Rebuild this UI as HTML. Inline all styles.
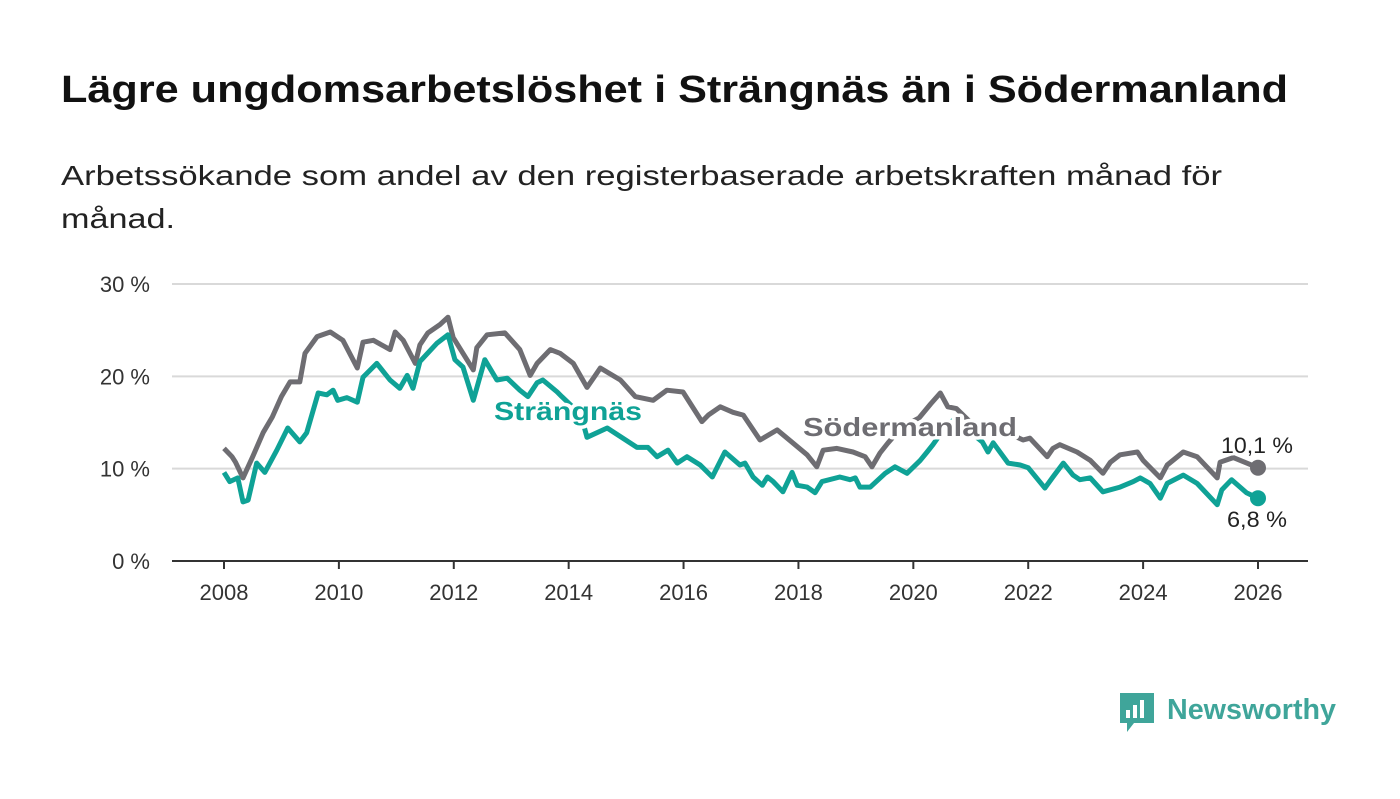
<!DOCTYPE html>
<html><head><meta charset="utf-8"><style>
body{margin:0;background:#fff;width:1400px;height:794px;overflow:hidden;font-family:"Liberation Sans",sans-serif}
</style></head><body>
<svg width="1400" height="794">
<text x="61" y="102" font-size="38" font-weight="bold" fill="#111" textLength="1227" lengthAdjust="spacingAndGlyphs">Lägre ungdomsarbetslöshet i Strängnäs än i Södermanland</text>
<text x="61" y="185" font-size="28" fill="#222" textLength="1161" lengthAdjust="spacingAndGlyphs">Arbetssökande som andel av den registerbaserade arbetskraften månad för</text>
<text x="61" y="228" font-size="28" fill="#222" textLength="114" lengthAdjust="spacingAndGlyphs">månad.</text>
<g id="axes"></g>
<g id="lines"></g>
<g id="labels"></g>
<g>
<path d="M1120 693h34v30h-20l-7 9v-9h-7z" fill="#3fa59a"/>
<rect x="1126" y="710" width="4" height="8" fill="#fff"/><rect x="1133" y="705" width="4" height="13" fill="#fff"/><rect x="1140" y="700" width="4" height="18" fill="#fff"/>
<text x="1167" y="719" font-size="29" font-weight="bold" fill="#3fa59a" textLength="169" lengthAdjust="spacingAndGlyphs">Newsworthy</text>
</g>
</svg>
<script>
const yTicks=[0,10,20,30];
const xTicks=[2008,2010,2012,2014,2016,2018,2020,2022,2024,2026];
const sodDates=[2008.0,2008.14,2008.2,2008.33,2008.5,2008.68,2008.84,2009.0,2009.15,2009.32,2009.41,2009.62,2009.85,2010.07,2010.32,2010.42,2010.6,2010.89,2010.98,2011.12,2011.33,2011.41,2011.55,2011.76,2011.9,2011.99,2012.34,2012.4,2012.58,2012.89,2013.15,2013.33,2013.45,2013.68,2013.85,2014.08,2014.32,2014.43,2014.55,2014.9,2015.16,2015.47,2015.71,2015.99,2016.32,2016.43,2016.64,2016.86,2017.04,2017.33,2017.63,2017.9,2018.15,2018.32,2018.43,2018.67,2018.95,2019.16,2019.28,2019.42,2019.56,2019.8,2020.1,2020.3,2020.47,2020.6,2020.75,2021.0,2021.3,2021.6,2021.91,2022.03,2022.33,2022.43,2022.55,2022.85,2023.08,2023.3,2023.43,2023.6,2023.9,2024.0,2024.3,2024.42,2024.7,2024.94,2025.29,2025.34,2025.57,2026.0];
const sodValues=[12.2,11.3,10.7,9.0,11.3,13.9,15.6,17.8,19.4,19.4,22.5,24.3,24.8,23.9,20.9,23.7,23.9,22.9,24.8,23.9,21.4,23.4,24.7,25.6,26.4,24.2,20.7,23.1,24.5,24.7,22.9,20.1,21.4,22.9,22.5,21.4,18.8,19.8,20.9,19.6,17.8,17.4,18.5,18.3,15.1,15.8,16.7,16.1,15.8,13.1,14.2,12.8,11.5,10.2,12.0,12.2,11.8,11.3,10.2,11.7,12.8,14.5,15.5,17.0,18.2,16.7,16.5,15.0,14.5,14.0,13.1,13.3,11.3,12.2,12.6,11.8,10.9,9.5,10.7,11.5,11.8,10.9,9.0,10.4,11.8,11.3,9.0,10.7,11.2,10.1];
const strDates=[2008.0,2008.1,2008.24,2008.33,2008.42,2008.57,2008.71,2008.92,2009.11,2009.32,2009.44,2009.64,2009.79,2009.9,2009.98,2010.14,2010.32,2010.42,2010.66,2010.89,2011.06,2011.19,2011.29,2011.41,2011.71,2011.9,2012.02,2012.16,2012.34,2012.54,2012.75,2012.93,2013.15,2013.29,2013.45,2013.55,2013.8,2013.88,2014.1,2014.25,2014.32,2014.67,2015.19,2015.38,2015.54,2015.73,2015.89,2016.06,2016.29,2016.5,2016.72,2016.98,2017.07,2017.21,2017.37,2017.46,2017.56,2017.73,2017.89,2017.98,2018.15,2018.29,2018.41,2018.72,2018.9,2018.99,2019.07,2019.25,2019.51,2019.68,2019.89,2020.12,2020.24,2020.34,2020.5,2020.7,2020.95,2021.2,2021.3,2021.39,2021.65,2021.86,2022.0,2022.29,2022.43,2022.61,2022.78,2022.9,2023.08,2023.3,2023.6,2023.83,2023.95,2024.12,2024.3,2024.42,2024.7,2024.94,2025.29,2025.37,2025.54,2025.8,2026.0];
const strValues=[9.6,8.6,9.0,6.4,6.6,10.6,9.6,12.0,14.4,12.9,13.9,18.2,18.0,18.5,17.4,17.7,17.2,19.9,21.4,19.6,18.7,20.1,18.7,21.6,23.6,24.5,21.8,21.0,17.4,21.8,19.6,19.8,18.5,17.8,19.3,19.6,18.3,17.8,16.5,15.0,13.4,14.4,12.3,12.3,11.3,12.0,10.6,11.3,10.4,9.1,11.8,10.4,10.6,9.1,8.2,9.1,8.6,7.5,9.6,8.2,8.0,7.4,8.6,9.1,8.8,9.0,8.0,8.0,9.5,10.2,9.5,10.9,11.8,12.6,14.0,15.3,14.2,12.9,11.8,12.8,10.6,10.4,10.1,7.9,9.1,10.6,9.3,8.8,9.0,7.5,8.0,8.6,9.0,8.4,6.8,8.4,9.3,8.4,6.1,7.7,8.8,7.4,6.8];
const NS="http://www.w3.org/2000/svg";
const X=v=>224+(v-2008)*(1258-224)/18;
const Y=v=>561-v*(561-284)/30;
function mk(tag,attrs,parent){const e=document.createElementNS(NS,tag);for(const k in attrs)e.setAttribute(k,attrs[k]);parent.appendChild(e);return e;}
const ax=document.getElementById('axes');
yTicks.forEach(t=>{
  const g=mk('line',{x1:172,x2:1308,y1:Y(t),y2:Y(t),stroke:t===0?'#333':'#d9d9d9','stroke-width':2},ax);
  
  
  const tx=mk('text',{x:150,y:Y(t)+8,'text-anchor':'end','font-size':22,fill:'#333'},ax);
  tx.textContent=t+' %';
  
  
});
xTicks.forEach(t=>{
  const l=mk('line',{x1:X(t),x2:X(t),y1:561,y2:569,stroke:'#333','stroke-width':2},ax);
  
  
  const tx=mk('text',{x:X(t),y:600,'text-anchor':'middle','font-size':22,fill:'#333'},ax);
  tx.textContent=t;
  
  
});
const ln=document.getElementById('lines');
function series(d,v,color,name){
  const p=mk('path',{d:d.map((x,i)=>(i?'L':'M')+X(x).toFixed(1)+' '+Y(v[i]).toFixed(1)).join(''),fill:'none',stroke:color,'stroke-width':5,'stroke-linejoin':'round'},ln);
  
  
  const c=mk('circle',{cx:X(d[d.length-1]),cy:Y(v[v.length-1]),r:8,fill:color},ln);
  
  
}
series(sodDates,sodValues,'#6e6d72','sodermanland');
series(strDates,strValues,'#0fa296','strangnas');
const lb=document.getElementById('labels');
function lab(x,y,txt,color,bold,size,name,anchor,len){
  const t=mk('text',{x:x,y:y,'font-size':size,'font-weight':bold?'bold':'normal',fill:color,stroke:'#fff','stroke-width':bold?7:5,'paint-order':'stroke','stroke-linejoin':'round','text-anchor':anchor||'start'},lb);
  if(len){t.setAttribute('textLength',len);t.setAttribute('lengthAdjust','spacingAndGlyphs');}
  t.textContent=txt;
  
  
}
lab(494,420,'Strängnäs','#0fa296',true,26,'strangnas-label','start',148);
lab(803,436,'Södermanland','#6e6d72',true,26,'sodermanland-label','start',214);
lab(1257,453,'10,1 %','#222',false,22,'sodermanland-value-label','middle',72);
lab(1257,527,'6,8 %','#222',false,22,'strangnas-value-label','middle',60);
</script>
</body></html>
